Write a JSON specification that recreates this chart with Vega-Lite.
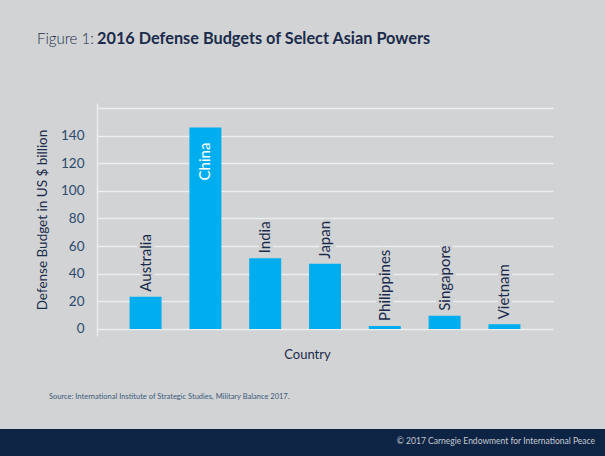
{
  "$schema": "https://vega.github.io/schema/vega-lite/v6.json",
  "background": "#d1d3d4",
  "padding": {"top": 30, "left": 0, "right": 0, "bottom": 0},
  "config": {"view": {"stroke": null}, "font": "Lato"},
  "title": {"text": "Figure 1:", "anchor": "start", "frame": "bounds", "dx": 37, "offset": -28.5, "fontSize": 15, "fontWeight": 300, "font": "Lato", "color": "#22304d", "baseline": "alphabetic"},
  "datasets": {
    "budgets": [
      {"country": "Australia", "budget": 23.4},
      {"country": "China", "budget": 145.8},
      {"country": "India", "budget": 51.2},
      {"country": "Japan", "budget": 47.3},
      {"country": "Philippines", "budget": 2.2},
      {"country": "Singapore", "budget": 9.6},
      {"country": "Vietnam", "budget": 3.4}
    ],
    "footer": [{"band": "footer"}],
    "none": []
  },
  "columns": 1,
  "align": "none",
  "spacing": 28,
  "concat": [
    {
      "spacing": 34,
      "title": {"text": "Source: International Institute of Strategic Studies, Military Balance 2017.", "orient": "bottom", "anchor": "start", "frame": "group", "dx": 49, "offset": 32, "fontSize": 7.5, "fontWeight": "normal", "color": "#3d5a7a"},
      "hconcat": [
        {"data": {"name": "none"}, "mark": "point", "width": 1, "height": 1},
        {
          "width": 456,
          "height": 233,
          "data": {"name": "budgets"},
          "title": {"text": "2016 Defense Budgets of Select Asian Powers", "anchor": "start", "frame": "group", "dx": 0, "offset": 43, "fontSize": 16.3, "fontWeight": "bold", "color": "#1b2b4b", "baseline": "alphabetic"},
          "encoding": {
            "x": {
              "field": "country", "type": "nominal", "sort": null,
              "scale": {"paddingInner": 0.465, "paddingOuter": 0.545},
              "axis": {"labels": false, "ticks": false, "domain": false, "title": "Country", "titleFontSize": 13, "titleFontWeight": "normal", "titleColor": "#1b2b4b", "titlePadding": 12, "titleX": 210}
            },
            "y": {
              "field": "budget", "type": "quantitative",
              "scale": {"domain": [-5.07, 163.6], "nice": false, "zero": false},
              "axis": {
                "values": [0, 20, 40, 60, 80, 100, 120, 140, 160],
                "labelExpr": "datum.value >= 160 ? '' : datum.label",
                "grid": true, "gridColor": "#eceeef", "gridWidth": 1.5,
                "domain": true, "domainColor": "#eceeef", "domainWidth": 1.5,
                "ticks": false, "labelPadding": 13, "labelFontSize": 13.5, "labelColor": "#2d4a6e",
                "title": "Defense Budget in US $ billion", "titleFontSize": 13.5, "titleFontWeight": "normal", "titleColor": "#1b2b4b", "titlePadding": 11
              }
            }
          },
          "layer": [
            {"mark": {"type": "bar", "color": "#00aeef"}, "encoding": {"y2": {"datum": 0}}},
            {
              "transform": [{"filter": "datum.country !== 'China'"}],
              "mark": {"type": "text", "angle": 270, "align": "left", "baseline": "middle", "dx": 5, "fontSize": 15, "fill": "#d1d3d4", "stroke": "#d1d3d4", "strokeWidth": 6},
              "encoding": {"text": {"field": "country"}}
            },
            {
              "transform": [{"filter": "datum.country !== 'China'"}],
              "mark": {"type": "text", "angle": 270, "align": "left", "baseline": "middle", "dx": 5, "fontSize": 15, "color": "#1b2b4b"},
              "encoding": {"text": {"field": "country"}}
            },
            {
              "transform": [{"filter": "datum.country === 'China'"}],
              "mark": {"type": "text", "angle": 270, "align": "right", "baseline": "middle", "dx": -15, "fontSize": 15, "color": "#ffffff"},
              "encoding": {"text": {"field": "country"}}
            }
          ]
        }
      ]
    },
    {
      "data": {"name": "footer"},
      "width": 605,
      "height": 28,
      "mark": {"type": "rect", "color": "#0e2444"},
      "title": {"text": "© 2017 Carnegie Endowment for International Peace", "orient": "bottom", "anchor": "end", "frame": "group", "dx": -10, "offset": -20, "fontSize": 8.5, "fontWeight": "normal", "color": "#c5cad3"}
    }
  ]
}
